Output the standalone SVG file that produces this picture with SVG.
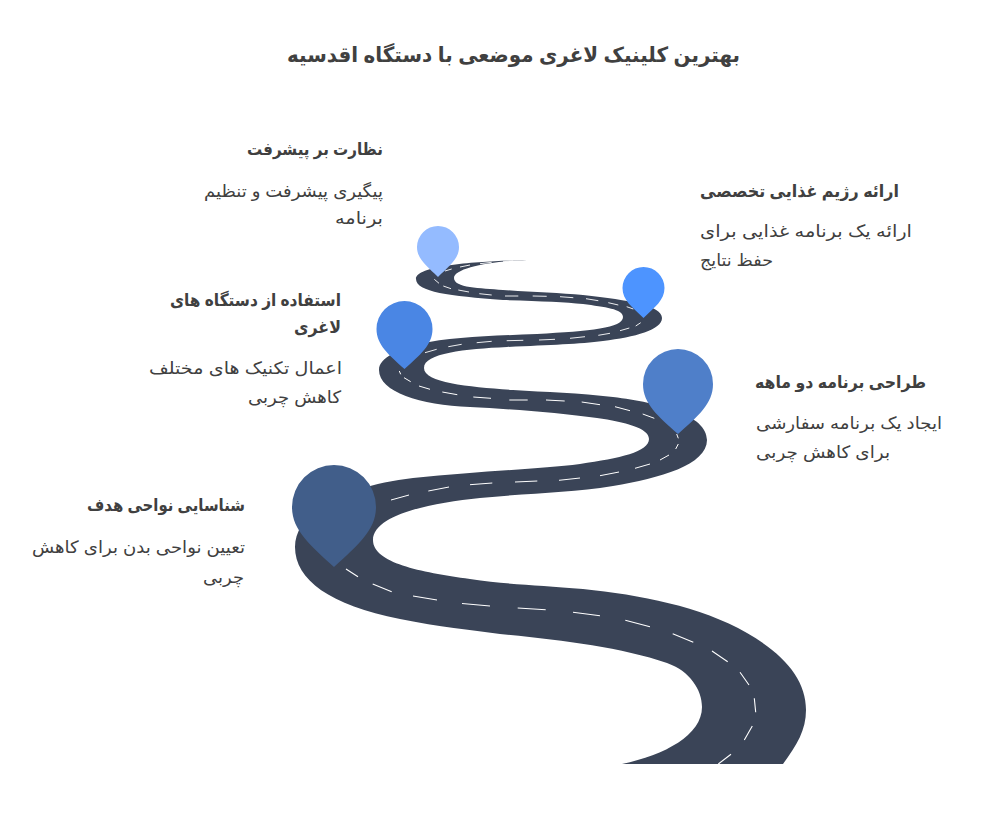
<svg xmlns="http://www.w3.org/2000/svg" width="987" height="820" viewBox="0 0 987 820">
<style>
text{font-family:"Liberation Sans",Arial,"DejaVu Sans",sans-serif;fill:#404040}
.t{font-size:21px;font-weight:700}
.h{font-size:17px;font-weight:700}
.b{font-size:17px}
.dash{fill:none;stroke:#fff;stroke-linecap:butt}
</style>
<rect width="987" height="820" fill="#fff"/>
<text class="t" x="287" y="62" textLength="453" lengthAdjust="spacingAndGlyphs">بهترین کلینیک لاغری موضعی با دستگاه اقدسیه</text>
<g id="connectors">
<path id="road" fill="#3a4457" d="M783 764C797 745 806 730 806 710C806 680 785 655 747 633C700 606 640 595 583 589C540 585 510 585 470 579C420 572 373 563 373 540C373 515 430 503 480 498C530 493 570 493 613 486C660 478 707 465 707 440C707 415 660 403 613 397C580 393 545 392 513 390C470 387 424 383 424 368C424 353 465 349 507 347C550 345 580 344 603 341C635 337 662 330 662 318C662 306 630 300 583 295C560 293 530 292 503 290C480 288 454 288 454 278C454 268 490 261 527 260C490 261 416 264 416 279C416 292 450 296 503 300C540 301 565 302 583 304C605 307 623 309 623 317C623 328 590 331 537 334C490 336 450 337 420 344C400 349 379 357 379 370C379 392 420 405 470 407C510 409 560 413 597 418C625 422 649 428 649 439C649 452 620 458 580 464C540 469 480 471 413 478C350 485 295 510 295 547C295 580 330 605 400 619C440 627 470 630 500 634C560 640 620 647 667 663C690 671 702 690 702 707C702 735 665 755 622 764Z"/>
<path class="dash" stroke-width="1.1" d="M718.3 764L731 754.3M744.3 740L752.3 726M755.7 712.3L754.3 698.3M749 685L740 672.3M727.7 661.7L712 651M693.3 642.3L672.7 633.7M650 626.7L625.3 620.3M600 615.7L573 612.3M545.7 609.7L517.7 608M490 606L462 603.5M437 600L413 596M391.7 591.7L372.7 584M358 576.7L346 569"/>
<path class="dash" stroke-width="1" d="M391 500L409 495M428.3 491L449 487M470 484.7L492.3 483M515 482L537.3 481M559 480.3L580 478M600 475.7L619 472M635 468.3L650 464M660 460L669 455M675.7 449L678.3 444M678.3 438.3L676.700 434M654.3 418.3L642.7 414M630 410.7L615 406.7M600 404.7L581.7 402M564.7 401L546 400M527.7 400L509.3 400M491 398.3L473.3 397M457.3 394.7L442.3 392M430 389.3L419 386M410.7 381.7L404 377.7M400.7 374.3L399.3 371"/>
<path class="dash" stroke-width="0.9" d="M425 352.7L436.7 349.3M448.3 346.7L461.7 344.3M476.7 342.7L491.7 341.3M506.7 340.7L523.3 340.3M539 340L555 339.3M570 338.3L585 336.7M598.3 335.3L610 333.3M620 330.7L629.3 328M635.7 326L640.7 322.7M633.3 309L626.7 306.7M618.3 305L608.3 302.7M598.3 300.7L586 298.7M573.3 297.7L560 296.7M546.7 296.3L532.7 296M518.3 296L505 296M491.7 295L479.3 293.7M469 292L458.3 290M451 288.7L443.3 286M439 283.3L434.3 279.3M445 271L451.7 269M460 267L470 265M480 263.7L491.7 262.3M503 261.7L513 261"/>
</g>
<g id="node-1">
<path fill="#415e8a" d="M334 567C310 545 292 530 292 507A42 42 0 0 1 376 507C376 530 358 545 334 567Z"/>
<text class="h" x="87" y="511" textLength="158" lengthAdjust="spacingAndGlyphs">شناسایی نواحی هدف</text>
<text class="b" x="32" y="553" textLength="213" lengthAdjust="spacingAndGlyphs">تعیین نواحی بدن برای کاهش</text>
<text class="b" x="203" y="583" textLength="41" lengthAdjust="spacingAndGlyphs">چربی</text>
</g>
<g id="node-2">
<path fill="#4f7fc9" d="M678 434C658 416 643 404 643 384A35 35 0 0 1 713 384C713 404 698 416 678 434Z"/>
<text class="h" x="755" y="388" textLength="171" lengthAdjust="spacingAndGlyphs">طراحی برنامه دو ماهه</text>
<text class="b" x="756" y="429" textLength="186" lengthAdjust="spacingAndGlyphs">ایجاد یک برنامه سفارشی</text>
<text class="b" x="756" y="458" textLength="134" lengthAdjust="spacingAndGlyphs">برای کاهش چربی</text>
</g>
<g id="node-3">
<path fill="#4a86e4" d="M404.500 369C389 355 376.500 345 376.500 329A28 28 0 0 1 432.500 329C432.500 345 420 355 404.500 369Z"/>
<text class="h" x="170" y="306" textLength="171" lengthAdjust="spacingAndGlyphs">استفاده از دستگاه های</text>
<text class="h" x="294" y="333" textLength="47" lengthAdjust="spacingAndGlyphs">لاغری</text>
<text class="b" x="149" y="374" textLength="193" lengthAdjust="spacingAndGlyphs">اعمال تکنیک های مختلف</text>
<text class="b" x="248" y="403" textLength="93" lengthAdjust="spacingAndGlyphs">کاهش چربی</text>
</g>
<g id="node-4">
<path fill="#4d94ff" d="M643.500 318C632 307 622.500 300 622.500 288A21 21 0 0 1 664.500 288C664.500 300 655 307 643.500 318Z"/>
<text class="h" x="700" y="197" textLength="199" lengthAdjust="spacingAndGlyphs">ارائه رژیم غذایی تخصصی</text>
<text class="b" x="700" y="237" textLength="212" lengthAdjust="spacingAndGlyphs">ارائه یک برنامه غذایی برای</text>
<text class="b" x="700" y="266" textLength="73" lengthAdjust="spacingAndGlyphs">حفظ نتایج</text>
</g>
<g id="node-5">
<path fill="#94bbff" d="M438 277C427 266 417 259 417 247A21 21 0 0 1 459 247C459 259 449 266 438 277Z"/>
<text class="h" x="247" y="155" textLength="136" lengthAdjust="spacingAndGlyphs">نظارت بر پیشرفت</text>
<text class="b" x="204" y="197" textLength="179" lengthAdjust="spacingAndGlyphs">پیگیری پیشرفت و تنظیم</text>
<text class="b" x="335" y="224" textLength="48" lengthAdjust="spacingAndGlyphs">برنامه</text>
</g>
</svg>
